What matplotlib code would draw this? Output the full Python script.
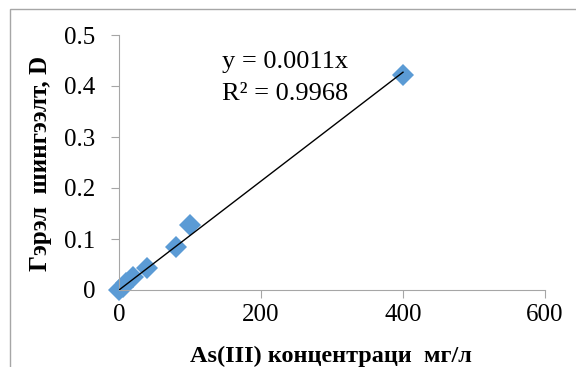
import matplotlib.pyplot as plt
import matplotlib.patches as patches
import numpy as np

conc = [0, 5, 10, 20, 40, 80, 100, 400]          # As(III) mg/l
absorb = [0, 0.006, 0.013, 0.025, 0.043, 0.084, 0.127, 0.422]
x_ticks = [0, 200, 400, 600]
y_ticks = [0, 0.1, 0.2, 0.3, 0.4, 0.5]
y_tick_labels = ['0', '0.1', '0.2', '0.3', '0.4', '0.5']
eq_line1 = "y = 0.0011x"
eq_line2 = "R² = 0.9968"

plt.rcParams['font.family'] = ['Liberation Serif', 'DejaVu Serif']

W, H = 576, 367
fig = plt.figure(figsize=(W / 100, H / 100), dpi=100)
ax = fig.add_axes([119 / W, 1 - 290 / H, 426 / W, 255 / H])

# outer chart border (only top and left edges show in the reference)
fig.patches.append(patches.Rectangle((10 / W, -0.1), 1.2, 1 - 9 / H + 0.1,
                                     transform=fig.transFigure, fill=False,
                                     edgecolor='#a6a6a6', linewidth=1))

xa = np.array(conc, dtype=float)
ya = np.array(absorb, dtype=float)
k = np.sum(xa * ya) / np.sum(xa * xa)   # linear fit through origin
ax.plot([0, max(conc)], [0, k * max(conc)], color='black', linewidth=1, zorder=3)
ax.plot(conc, absorb, linestyle='none', marker='D', markersize=11.5,
        color='#5b9bd5', markeredgewidth=0, zorder=2, clip_on=False)

ax.set_xlim(0, 600)
ax.set_ylim(0, 0.5)
ax.set_xticks(x_ticks)
ax.set_yticks(y_ticks)
ax.set_yticklabels(y_tick_labels)
for s in ['top', 'right']:
    ax.spines[s].set_visible(False)
for s in ['left', 'bottom']:
    ax.spines[s].set_color('#a6a6a6')
ax.tick_params(direction='out', length=6, color='#a6a6a6', labelsize=18)
ax.tick_params(axis='y', pad=11)
ax.tick_params(axis='x', pad=4)

fig.text(222 / W, 1 - 68 / H, eq_line1, fontsize=19, va='baseline', ha='left')
fig.text(222 / W, 1 - 100 / H, eq_line2, fontsize=19, va='baseline', ha='left')

fig.text(331 / W, 1 - 356 / H, "As(III) концентраци  мг/л", fontsize=17.5,
         fontweight='bold', ha='center', va='center')
fig.text(41 / W, 1 - 163 / H, "Гэрэл  шингээлт, D", fontsize=18,
         fontweight='bold', ha='center', va='center', rotation=90)

fig.savefig('out.png', dpi=100)
